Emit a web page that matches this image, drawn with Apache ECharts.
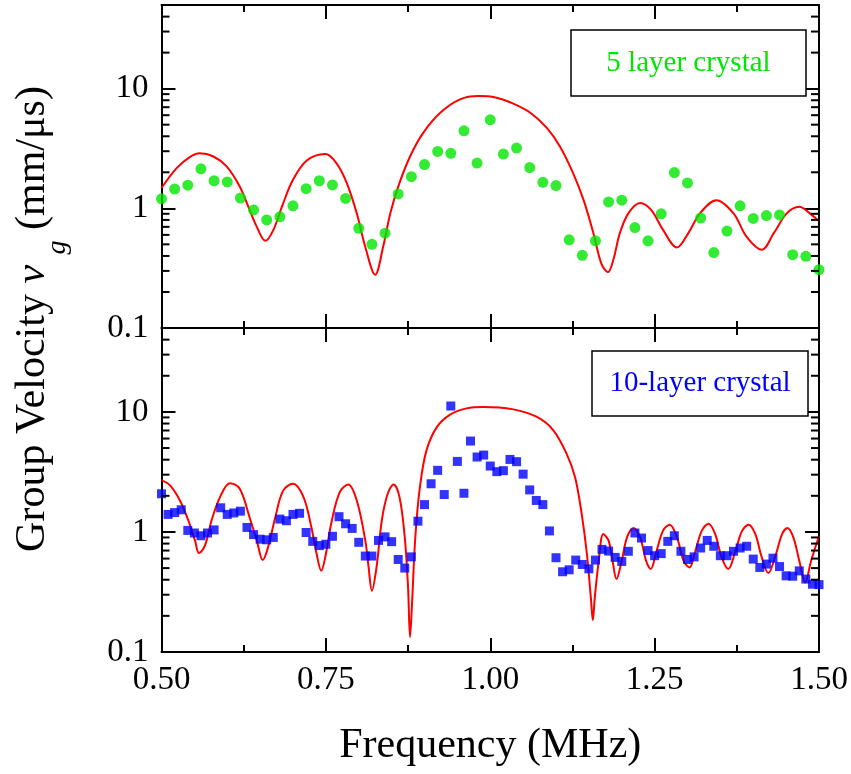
<!DOCTYPE html>
<html><head><meta charset="utf-8">
<script src="https://cdn.jsdelivr.net/npm/echarts@6/dist/echarts.min.js"></script>
<style>html,body{margin:0;padding:0;background:#fff}#c{width:851px;height:774px}</style>
</head><body><div id="c"></div>
<script>
// ---------- data ----------
const freq5 = [0.50,0.52,0.54,0.56,0.58,0.60,0.62,0.64,0.66,0.68,0.70,0.72,0.74,0.76,0.78,0.80,0.82,0.84,0.86,0.88,0.90,0.92,0.94,0.96,0.98,1.00,1.02,1.04,1.06,1.08,1.10,1.12,1.14,1.16,1.18,1.20,1.22,1.24,1.26,1.28,1.30,1.32,1.34,1.36,1.38,1.40,1.42,1.44,1.46,1.48,1.50];
const vg5 = [1.20,1.45,1.56,2.14,1.70,1.66,1.22,0.97,0.80,0.85,1.05,1.46,1.70,1.57,1.21,0.68,0.50,0.62,1.32,1.84,2.32,2.99,2.88,4.44,2.39,5.49,2.84,3.19,2.19,1.65,1.55,0.545,0.405,0.535,1.13,1.17,0.69,0.535,0.90,1.99,1.63,0.83,0.427,0.645,1.05,0.824,0.87,0.88,0.41,0.397,0.307];

const fitFreq5 = [0.500,0.523,0.543,0.558,0.579,0.599,0.619,0.634,0.645,0.658,0.670,0.685,0.700,0.721,0.749,0.766,0.782,0.797,0.810,0.825,0.837,0.848,0.860,0.878,0.898,0.924,0.954,0.982,1.008,1.035,1.061,1.086,1.106,1.126,1.142,1.157,1.169,1.179,1.187,1.197,1.210,1.228,1.245,1.263,1.284,1.301,1.319,1.344,1.370,1.390,1.413,1.431,1.451,1.470,1.486,1.500];
const fitVg5 = [1.48,2.17,2.68,2.88,2.71,2.24,1.52,0.97,0.70,0.535,0.657,1.10,1.73,2.51,2.84,2.39,1.62,0.908,0.475,0.279,0.475,0.908,1.52,2.71,4.27,6.29,8.13,8.67,8.45,7.50,6.29,4.70,3.29,1.97,1.17,0.617,0.345,0.293,0.368,0.617,0.908,1.11,0.967,0.657,0.47,0.617,0.908,1.17,0.908,0.577,0.45,0.617,0.908,1.03,0.908,0.78];

const freq10 = [0.50,0.51,0.52,0.53,0.54,0.55,0.56,0.57,0.58,0.59,0.60,0.61,0.62,0.63,0.64,0.65,0.66,0.67,0.68,0.69,0.70,0.71,0.72,0.73,0.74,0.75,0.76,0.77,0.78,0.79,0.80,0.81,0.82,0.83,0.84,0.85,0.86,0.87,0.88,0.89,0.90,0.91,0.92,0.93,0.94,0.95,0.96,0.97,0.98,0.99,1.00,1.01,1.02,1.03,1.04,1.05,1.06,1.07,1.08,1.09,1.10,1.11,1.12,1.13,1.14,1.15,1.16,1.17,1.18,1.19,1.20,1.21,1.22,1.23,1.24,1.25,1.26,1.27,1.28,1.29,1.30,1.31,1.32,1.33,1.34,1.35,1.36,1.37,1.38,1.39,1.40,1.41,1.42,1.43,1.44,1.45,1.46,1.47,1.48,1.49,1.50];
const vg10 = [2.08,1.40,1.45,1.53,1.03,0.98,0.93,0.98,1.04,1.59,1.40,1.44,1.49,1.09,0.95,0.87,0.86,0.90,1.28,1.24,1.40,1.43,0.99,0.835,0.77,0.79,0.92,1.34,1.17,1.07,0.82,0.63,0.63,0.85,0.91,0.83,0.59,0.50,0.62,1.23,1.69,2.52,3.26,2.05,11.2,3.87,2.10,5.72,4.21,4.37,3.54,3.18,3.24,4.02,3.85,3.03,2.24,1.83,1.69,1.02,0.61,0.466,0.484,0.583,0.536,0.493,0.583,0.716,0.693,0.614,0.568,0.69,0.98,0.89,0.70,0.634,0.66,0.835,0.93,0.69,0.59,0.62,0.735,0.85,0.76,0.634,0.634,0.69,0.735,0.76,0.594,0.506,0.54,0.605,0.515,0.431,0.428,0.474,0.405,0.367,0.364];

const fitFreq10 = [0.500,0.513,0.528,0.541,0.551,0.557,0.566,0.576,0.589,0.604,0.619,0.634,0.645,0.654,0.662,0.673,0.685,0.700,0.716,0.728,0.736,0.743,0.749,0.759,0.771,0.784,0.797,0.810,0.815,0.820,0.827,0.835,0.844,0.853,0.862,0.870,0.875,0.878,0.881,0.886,0.893,0.903,0.919,0.939,0.964,0.989,1.035,1.071,1.096,1.116,1.129,1.139,1.147,1.153,1.156,1.159,1.165,1.172,1.180,1.186,1.192,1.200,1.208,1.218,1.228,1.237,1.244,1.253,1.263,1.273,1.284,1.294,1.303,1.312,1.322,1.332,1.342,1.352,1.362,1.373,1.383,1.393,1.403,1.413,1.423,1.433,1.444,1.452,1.461,1.470,1.479,1.488,1.500];
const fitVg10 = [2.70,2.44,1.83,1.24,0.846,0.667,0.768,1.24,1.95,2.55,2.29,1.32,0.846,0.583,0.743,1.32,2.21,2.52,1.95,1.09,0.655,0.475,0.614,1.24,2.14,2.49,1.83,0.846,0.506,0.323,0.506,1.24,2.08,2.49,1.95,0.90,0.344,0.133,0.25,0.90,2.36,4.78,7.5,9.5,10.7,11.0,10.5,9.08,7.03,4.49,2.86,1.42,0.655,0.284,0.184,0.284,0.575,0.962,0.846,0.575,0.405,0.575,0.90,1.08,0.90,0.575,0.491,0.698,1.03,1.15,0.90,0.575,0.506,0.698,1.03,1.17,0.962,0.614,0.491,0.698,1.02,1.15,0.962,0.614,0.454,0.614,0.962,1.08,0.90,0.575,0.379,0.575,0.92];

const xTickLabels = ['0.50','0.75','1.00','1.25','1.50'];
const yTickValues = [0.1, 1, 10];
const yTickLabels = ['0.1','1','10'];
const yMinorTicks = [0.2,0.3,0.4,0.5,0.6,0.7,0.8,0.9,2,3,4,5,6,7,8,9,20,30,40];
const legend5 = '5 layer crystal';
const legend10 = '10-layer crystal';
const xTitle = 'Frequency (MHz)';
const yTitle = 'Group Velocity {v|v} {g|g} (mm/μs)';

// ---------- chart ----------
const FONT = '"Liberation Serif","Times New Roman",serif';
const X_MIN = 0.5, X_MAX = 1.5, X_STEP = 0.25, Y_MIN = 0.1, Y_MAX = 50;
const GREEN = '#00e600', BLUE = '#0000ff', RED = '#ff0000';

const zip = (a, b) => a.map((v, i) => [v, b[i]]);

function xAx(gridIndex, position, showLabel, extra) {
  return Object.assign({
    type: 'value', gridIndex, position, min: X_MIN, max: X_MAX, interval: X_STEP,
    axisLine: { onZero: false, lineStyle: { color: '#000', width: 2 } },
    axisTick: { inside: true, length: 14, lineStyle: { color: '#000', width: 2 } },
    minorTick: { show: true, splitNumber: 2, length: 7, lineStyle: { color: '#000', width: 2 } },
    splitLine: { show: false },
    axisLabel: {
      show: showLabel, margin: 12, fontSize: 33, fontFamily: FONT, color: '#000',
      formatter: v => {
        const i = Math.round((v - X_MIN) / X_STEP);
        return Math.abs(v - (X_MIN + i * X_STEP)) < 1e-6 ? xTickLabels[i] : '';
      }
    }
  }, extra || {});
}
function yAx(gridIndex, position, showLabel) {
  return {
    type: 'log', logBase: 10, gridIndex, position, min: Y_MIN, max: Y_MAX,
    axisLine: { onZero: false, lineStyle: { color: '#000', width: 2 } },
    axisTick: { inside: true, length: 14, lineStyle: { color: '#000', width: 2 } },
    splitLine: { show: false },
    axisLabel: {
      show: showLabel, margin: 13, fontSize: 33, fontFamily: FONT, color: '#000',
      showMaxLabel: false,
      formatter: v => {
        const i = yTickValues.findIndex(t => Math.abs(Math.log10(v) - Math.log10(t)) < 1e-6);
        return i >= 0 ? yTickLabels[i] : '';
      }
    }
  };
}
function minorSeries(g) {
  return {
    type: 'custom', xAxisIndex: g * 2, yAxisIndex: g * 2, silent: true, clip: false, z: 5,
    data: yMinorTicks.map(v => [X_MIN, v]), encode: { x: 0, y: 1 },
    renderItem: (params, api) => {
      const v = api.value(1);
      const pl = api.coord([X_MIN, v]);
      const pr = api.coord([X_MAX, v]);
      const st = { stroke: '#000', lineWidth: 2 };
      return { type: 'group', children: [
        { type: 'line', shape: { x1: pl[0], y1: pl[1], x2: pl[0] + 8, y2: pl[1] }, style: st },
        { type: 'line', shape: { x1: pr[0], y1: pr[1], x2: pr[0] - 8, y2: pr[1] }, style: st }
      ] };
    }
  };
}

const chart = echarts.init(document.getElementById('c'), null, { renderer: 'canvas' });
chart.setOption({
  animation: false,
  backgroundColor: '#fff',
  grid: [
    { left: 161.5, right: 32, top: 5, height: 323 },
    { left: 161.5, right: 32, top: 328, height: 324 }
  ],
  xAxis: [
    xAx(0, 'bottom', false),
    xAx(0, 'top', false),
    xAx(1, 'bottom', true, {
      name: xTitle, nameLocation: 'middle', nameGap: 73,
      nameTextStyle: { fontSize: 42, fontFamily: FONT, color: '#000' }
    }),
    xAx(1, 'top', false)
  ],
  yAxis: [
    yAx(0, 'left', true),
    yAx(0, 'right', false),
    yAx(1, 'left', true),
    yAx(1, 'right', false)
  ],
  series: [
    { type: 'line', xAxisIndex: 0, yAxisIndex: 0, data: zip(fitFreq5, fitVg5), showSymbol: false, smooth: 0.35,
      lineStyle: { color: RED, width: 2 }, z: 2 },
    { type: 'scatter', xAxisIndex: 0, yAxisIndex: 0, data: zip(freq5, vg5), symbol: 'circle', symbolSize: 11,
      itemStyle: { color: GREEN }, z: 3 },
    { type: 'line', xAxisIndex: 2, yAxisIndex: 2, data: zip(fitFreq10, fitVg10), showSymbol: false, smooth: 0.35,
      lineStyle: { color: RED, width: 2 }, z: 2 },
    { type: 'scatter', xAxisIndex: 2, yAxisIndex: 2, data: zip(freq10, vg10), symbol: 'rect', symbolSize: 9,
      itemStyle: { color: BLUE }, z: 3 },
    minorSeries(0),
    minorSeries(1)
  ],
  graphic: [
    { type: 'rect', shape: { x: 571, y: 30, width: 235, height: 66 }, style: { fill: '#fff', stroke: '#000', lineWidth: 1.5 }, z: 100 },
    { type: 'text', x: 688.5, y: 63, z: 101,
      style: { text: legend5, fill: GREEN, fontSize: 29, fontFamily: FONT, align: 'center', verticalAlign: 'middle' } },
    { type: 'rect', shape: { x: 592, y: 351, width: 216, height: 65 }, style: { fill: '#fff', stroke: '#000', lineWidth: 1.5 }, z: 100 },
    { type: 'text', x: 700, y: 383.5, z: 101,
      style: { text: legend10, fill: BLUE, fontSize: 29, fontFamily: FONT, align: 'center', verticalAlign: 'middle' } },
    { type: 'text', x: 33, y: 319, rotation: Math.PI / 2, z: 101,
      style: {
        text: yTitle, fill: '#000', fontSize: 42, fontFamily: FONT,
        align: 'center', verticalAlign: 'middle',
        rich: {
          v: { fontSize: 42, fontFamily: FONT, fontStyle: 'italic', fill: '#000' },
          g: { fontSize: 28, fontFamily: FONT, fontStyle: 'italic', fill: '#000', padding: [50, 0, 0, 0] }
        }
      } }
  ]
});
</script>
</body></html>
